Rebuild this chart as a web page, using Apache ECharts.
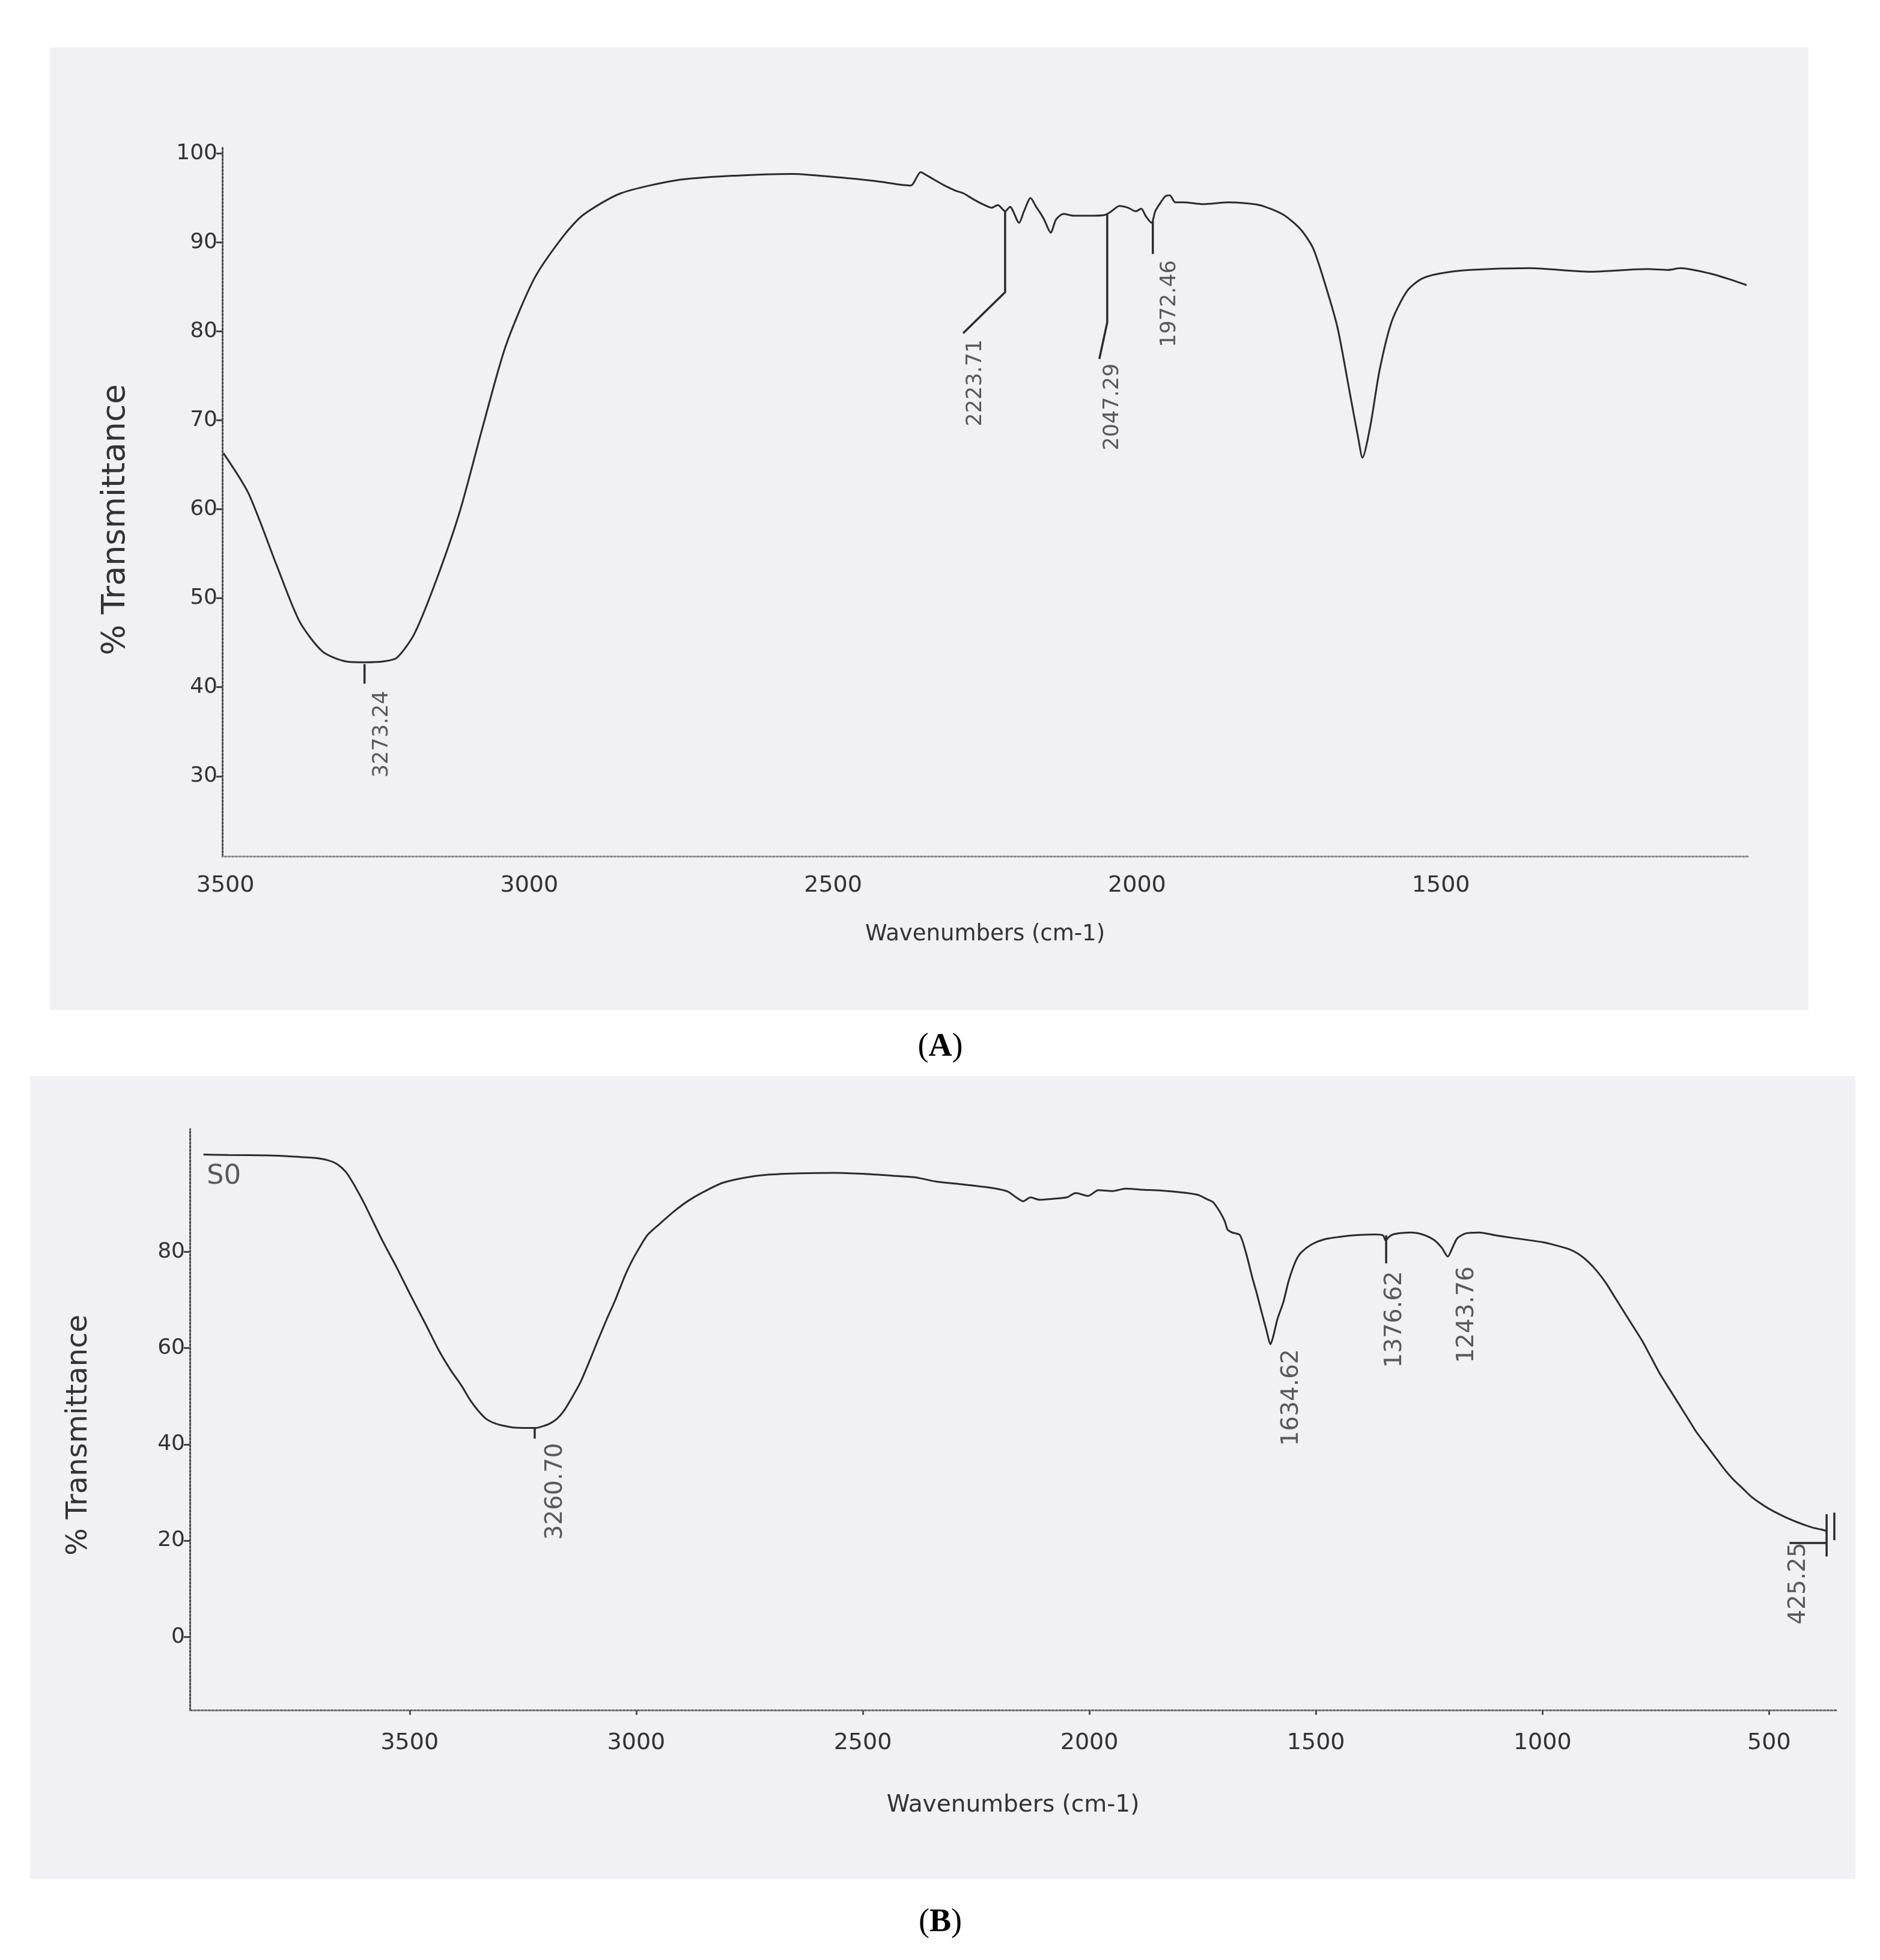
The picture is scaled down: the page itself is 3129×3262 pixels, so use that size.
<!DOCTYPE html>
<html><head><meta charset="utf-8">
<script src="https://cdn.jsdelivr.net/npm/echarts@6/dist/echarts.min.js"></script>
<style>html,body{margin:0;padding:0;background:#fff}#c{width:3129px;height:3262px}</style>
</head><body><div id="c"></div>
<script>
// ---------- data (wavenumber cm-1, % transmittance) ----------
const spectrumA = [
 [3503,66.3],[3462,61.8],[3415,53.6],[3378,47.4],[3340,44.0],[3302,42.9],[3269,42.8],[3240,42.9],[3218,43.3],
 [3189,46.0],[3152,52.2],[3114,59.8],[3076,69.4],[3039,78.3],[2992,85.9],[2944,90.7],[2911,93.1],[2850,95.5],
 [2756,97.0],[2662,97.5],[2568,97.7],[2474,97.2],[2420,96.8],[2390,96.5],[2372,96.4],[2356,97.9],[2345,97.5],
 [2317,96.4],[2298,95.8],[2285,95.5],[2268,94.8],[2251,94.2],[2239,93.9],[2229,94.2],[2217,93.5],[2209,94.0],
 [2194,92.2],[2186,93.5],[2175,95.0],[2166,94.0],[2160,93.4],[2153,92.6],[2142,91.1],[2133,92.6],[2121,93.2],
 [2104,93.0],[2071,93.0],[2052,93.1],[2042,93.5],[2029,94.1],[2015,93.9],[2002,93.5],[1993,93.8],[1986,93.0],
 [1976,92.2],[1970,93.5],[1961,94.5],[1953,95.2],[1946,95.3],[1937,94.5],[1924,94.5],[1891,94.3],[1849,94.5],
 [1799,94.2],[1759,93.1],[1730,91.4],[1710,89.3],[1690,85.2],[1670,80.4],[1651,73.5],[1636,68.0],[1629,65.8],
 [1616,69.4],[1601,75.6],[1581,81.1],[1556,84.5],[1532,85.9],[1502,86.5],[1453,86.9],[1354,87.1],[1255,86.7],
 [1160,87.0],[1126,86.9],[1106,87.1],[1057,86.5],[1027,85.9],[997,85.2]
];
const spectrumB = [
 [3955,100.2],[3900,100.1],[3810,100.0],[3760,99.8],[3710,99.5],[3680,99.0],[3660,98.2],[3640,96.5],[3620,93.5],
 [3600,90.0],[3560,82.3],[3530,77.0],[3497,70.8],[3465,65.0],[3435,59.4],[3410,55.5],[3385,52.1],[3365,49.0],
 [3348,46.9],[3330,45.2],[3310,44.3],[3290,43.8],[3272,43.5],[3250,43.4],[3222,43.4],[3205,43.8],[3191,44.3],
 [3175,45.3],[3160,46.9],[3140,50.0],[3122,53.1],[3100,58.0],[3085,61.5],[3065,66.0],[3047,69.8],[3025,75.0],
 [3010,78.0],[2997,80.2],[2975,83.5],[2947,85.9],[2915,88.5],[2885,90.6],[2850,92.5],[2810,94.3],[2760,95.4],
 [2710,96.0],[2640,96.3],[2560,96.4],[2500,96.2],[2435,95.8],[2380,95.4],[2340,94.6],[2300,94.2],[2260,93.8],
 [2211,93.2],[2180,92.5],[2160,91.2],[2146,90.5],[2130,91.3],[2110,90.8],[2081,91.0],[2050,91.3],[2030,92.2],
 [2003,91.6],[1980,92.8],[1950,92.6],[1920,93.1],[1885,92.9],[1840,92.7],[1794,92.3],[1760,91.8],[1740,90.9],
 [1727,90.3],[1712,88.3],[1701,86.3],[1695,84.6],[1685,84.0],[1668,83.5],[1655,80.0],[1640,74.5],[1631,71.5],
 [1620,67.5],[1610,64.0],[1600,60.8],[1594,62.5],[1585,66.0],[1572,69.5],[1560,74.0],[1545,78.0],[1533,79.8],
 [1510,81.5],[1481,82.6],[1440,83.2],[1403,83.5],[1370,83.6],[1352,83.4],[1346,82.3],[1340,83.0],[1330,83.6],
 [1310,83.9],[1290,84.0],[1265,83.6],[1240,82.5],[1222,80.8],[1209,79.0],[1198,81.0],[1188,82.8],[1170,83.8],
 [1140,84.0],[1103,83.4],[1060,82.8],[1000,82.0],[973,81.4],[940,80.5],[920,79.5],[900,78.0],[880,76.0],
 [860,73.5],[840,70.5],[820,67.5],[800,64.5],[780,61.5],[760,58.0],[740,54.5],[720,51.5],[700,48.5],[680,45.5],
 [660,42.5],[640,40.0],[620,37.5],[600,35.0],[580,32.8],[560,31.0],[540,29.2],[520,27.8],[500,26.6],[480,25.6],
 [460,24.7],[440,23.9],[420,23.2],[400,22.6],[385,22.3],[373,22.0]
];
const xTicksA = [1500, 2000, 2500, 3000, 3500];
const yTicksA = [30, 40, 50, 60, 70, 80, 90, 100];
const xTicksB = [500, 1000, 1500, 2000, 2500, 3000, 3500];
const yTicksB = [0, 20, 40, 60, 80];
const peakTextA = ['3273.24', '2223.71', '2047.29', '1972.46'];
const peakAnchorA = [[3242, 39.6], [2265, 79.1], [2040, 76.4], [1946, 88.0]];
const leadersA = [
 [[3271, 42.6], [3271, 40.4]],
 [[2217, 93.5], [2217, 84.4], [2286, 79.8]],
 [[2049, 93.1], [2049, 81.0], [2062, 76.9]],
 [[1974, 92.4], [1974, 88.7]]
];
const peakTextB = ['3260.70', '1634.62', '1376.62', '1243.76', '425.25'];
const peakAnchorB = [[3178, 40.3], [1553, 59.8], [1325, 76.0], [1166, 77.0], [435, 19.6]];
const leadersB = [
 [[3224, 43.4], [3224, 41.2]],
 [[1345, 83.4], [1345, 77.6]],
 [[373, 25.5], [373, 16.7]],
 [[356, 25.8], [356, 20.1]],
 [[455, 19.5], [373, 19.5]]
];
const cornerTextB = 'S0';
const cornerAnchorB = [3910, 95.6];
const xNames = ['Wavenumbers (cm-1)', 'Wavenumbers (cm-1)'];
const yNames = ['% Transmittance', '% Transmittance'];
const panelLetters = ['A', 'B'];

// ---------- chart ----------
const FONT = '"DejaVu Sans", Verdana, sans-serif';
const INK = '#2b2b2b';
const PAPER = '#f0f0f5';
const chart = echarts.init(document.getElementById('c'), null, {renderer: 'canvas'});

function axisLine(color) { return {show: true, onZero: false, lineStyle: {color: color, width: 3, type: 'dotted'}}; }
const plain = v => String(v);

function xAxis(grid, min, max, ticks, name, gap, fs, nfs, margin, showTick, lineColor) {
  return {
    type: 'value', gridIndex: grid, inverse: true, min: min, max: max,
    name: name, nameLocation: 'middle', nameGap: gap,
    nameTextStyle: {fontFamily: FONT, fontSize: nfs, color: '#333'},
    axisLine: axisLine(lineColor),
    axisTick: {show: showTick, customValues: ticks, length: 8, lineStyle: {color: '#555', width: 3}},
    axisLabel: {customValues: ticks, formatter: plain, fontFamily: FONT, fontSize: fs, color: '#333', margin: margin},
    splitLine: {show: false}
  };
}
function yAxis(grid, min, max, ticks, name, gap, fs, nfs, shiftDown) {
  return {
    type: 'value', gridIndex: grid, min: min, max: max,
    name: name, nameLocation: 'middle', nameGap: gap, nameRotate: 90,
    nameTextStyle: {fontFamily: FONT, fontSize: nfs, color: '#333', padding: [0, shiftDown * 2, 0, 0]},
    axisLine: axisLine('#4a4a4a'),
    axisTick: {show: true, customValues: ticks, length: 10, lineStyle: {color: '#444', width: 3}},
    axisLabel: {customValues: ticks, formatter: plain, fontFamily: FONT, fontSize: fs, color: '#333', margin: 8},
    splitLine: {show: false}
  };
}
function lineSeries(idx, data, w) {
  return {type: 'line', xAxisIndex: idx, yAxisIndex: idx, data: data, symbol: 'none',
    smooth: 0.25, silent: true, animation: false, z: 5,
    lineStyle: {color: INK, width: w}};
}
function leaderSeries(idx, data) {
  return {type: 'line', xAxisIndex: idx, yAxisIndex: idx, data: data, symbol: 'none',
    silent: true, animation: false, z: 5, lineStyle: {color: INK, width: 3.5}};
}
function labelSeries(idx, texts, anchors, fs, rotate, align) {
  return {type: 'scatter', xAxisIndex: idx, yAxisIndex: idx, symbol: 'circle', symbolSize: 2,
    silent: true, animation: false, z: 6,
    itemStyle: {color: 'rgba(0,0,0,0)'},
    data: texts.map((t, i) => ({value: anchors[i], label: {formatter: t}})),
    label: {show: true, position: 'inside', rotate: rotate, align: align, verticalAlign: 'middle',
      fontFamily: FONT, fontSize: fs, color: '#333'}};
}

const series = [
  lineSeries(0, spectrumA, 3),
  lineSeries(1, spectrumB, 3),
  ...leadersA.map(d => leaderSeries(0, d)),
  ...leadersB.map(d => leaderSeries(1, d)),
  labelSeries(0, peakTextA, peakAnchorA, 35, 90, 'right'),
  labelSeries(1, peakTextB, peakAnchorB, 39, 90, 'right'),
  labelSeries(1, [cornerTextB], [cornerAnchorB], 45, 0, 'center')
];

const option = {
  backgroundColor: '#ffffff',
  animation: false,
  grid: [
    {left: 370, right: 220, top: 245, height: 1180},
    {left: 316, right: 73, top: 1879, height: 967}
  ],
  xAxis: [
    xAxis(0, 995, 3505, xTicksA, xNames[0], 112, 38, 37, 30, false, '#8a8a8a'),
    xAxis(1, 352, 3985, xTicksB, xNames[1], 139, 38, 39, 36, true, '#6a6a6a')
  ],
  yAxis: [
    yAxis(0, 21, 100.7, yTicksA, yNames[0], 150, 36, 54, 30),
    yAxis(1, -15.2, 105.5, yTicksB, yNames[1], 160, 36, 48, 26)
  ],
  graphic: [
    {type: 'rect', z: -10, silent: true, shape: {x: 83, y: 79, width: 2927, height: 1602}, style: {fill: PAPER}},
    {type: 'rect', z: -10, silent: true, shape: {x: 50, y: 1791, width: 3038, height: 1336}, style: {fill: PAPER}},
    {type: 'text', silent: true, x: 1565, y: 1743, style: {text: '({b|' + panelLetters[0] + '})', align: 'center', verticalAlign: 'middle',
      font: '54px "Liberation Serif", "DejaVu Serif", serif', fill: '#000',
      rich: {b: {fontWeight: 'bold', fontSize: 54, fontFamily: '"Liberation Serif", serif'}}}},
    {type: 'text', silent: true, x: 1565, y: 3200, style: {text: '({b|' + panelLetters[1] + '})', align: 'center', verticalAlign: 'middle',
      font: '54px "Liberation Serif", "DejaVu Serif", serif', fill: '#000',
      rich: {b: {fontWeight: 'bold', fontSize: 54, fontFamily: '"Liberation Serif", serif'}}}}
  ],
  series: series
};
chart.setOption(option);
</script>
</body></html>
